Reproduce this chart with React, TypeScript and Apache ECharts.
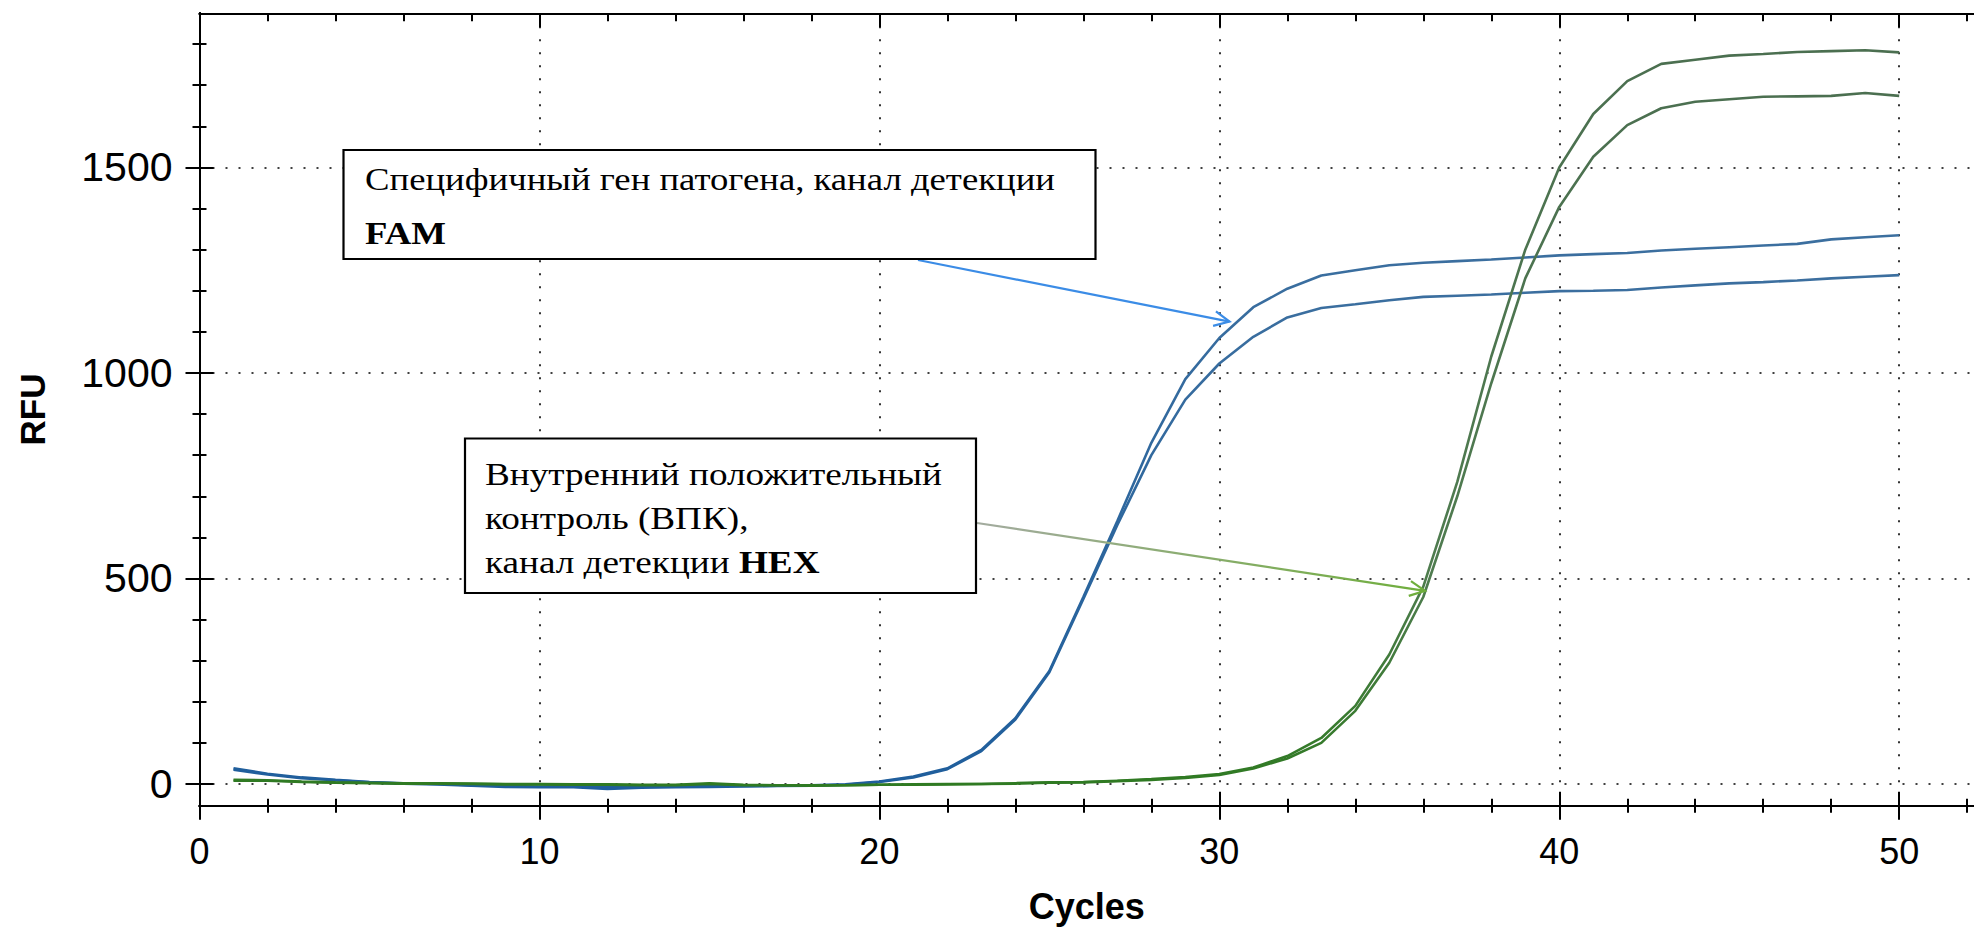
import React, { useEffect, useRef } from "react";
import * as echarts from "echarts";

// PCR amplification curves, RFU per cycle
const cycles = [
  1, 2, 3, 4, 5, 6, 7, 8, 9, 10, 11, 12, 13, 14, 15, 16, 17, 18, 19, 20, 21, 22, 23, 24, 25,
  26, 27, 28, 29, 30, 31, 32, 33, 34, 35, 36, 37, 38, 39, 40, 41, 42, 43, 44, 45, 46, 47, 48, 49, 50,
];

const famA = [
  38, 25, 16, 10, 5, 2, 0, -3, -5, -6, -5, -8, -6, -6, -5, -5, -4, -3, -1, 6, 18, 38, 83, 160, 275,
  455, 640, 830, 985, 1085, 1160, 1205, 1237, 1250, 1262, 1268, 1272, 1276, 1281, 1286, 1289, 1292, 1298, 1302, 1306, 1310, 1314, 1325, 1330, 1335,
];
const famB = [
  35, 23, 14, 9, 4, 1, -1, -4, -7, -8, -8, -12, -9, -8, -7, -6, -5, -4, -2, 5, 16, 36, 80, 157, 272,
  450, 630, 800, 935, 1023, 1088, 1135, 1158, 1167, 1177, 1185, 1188, 1191, 1195, 1199, 1200, 1202, 1208, 1213, 1218, 1221, 1225, 1230, 1234, 1238,
];
const hexA = [
  10, 9, 6, 4, 3, 2, 2, 1, 0, 0, -1, -1, -2, -2, 2, -2, -3, -3, -3, -2, -1, 0, 0, 2, 4,
  5, 8, 12, 17, 24, 40, 68, 112, 190, 315, 480, 735, 1040, 1300, 1500, 1630, 1710, 1752, 1762, 1772, 1776, 1781, 1783, 1785, 1780,
];
const hexB = [
  8, 8, 5, 3, 2, 1, 1, 0, -1, -1, -2, -2, -3, -3, 0, -3, -3, -4, -3, -2, -2, -1, 0, 1, 3,
  4, 7, 10, 15, 22, 38, 62, 100, 178, 295, 455, 700, 975, 1230, 1404, 1526, 1603, 1644, 1660, 1666, 1672, 1673, 1674, 1681, 1674,
];

const xMajorTicks = [0, 10, 20, 30, 40, 50];
const xMinorTicks = [2, 4, 6, 8, 12, 14, 16, 18, 22, 24, 26, 28, 32, 34, 36, 38, 42, 44, 46, 48, 52];
const yMajorTicks = [0, 500, 1000, 1500];
const yMinorTicks = [100, 200, 300, 400, 600, 700, 800, 900, 1100, 1200, 1300, 1400, 1600, 1700, 1800];

const famLabel = ["Специфичный ген патогена, канал детекции", "FAM"];
const hexLabel = ["Внутренний положительный", "контроль (ВПК),", "канал детекции ", "HEX"];

const X_MIN = 0;
const X_MAX = 52.2;
const Y_MIN = -52.8;
const Y_MAX = 1875;

const SANS = "'Liberation Sans', Arial, sans-serif";
const SERIF = "'Liberation Serif', 'Times New Roman', serif";

const pairs = (ys: number[]) => cycles.map((c, i) => [c, ys[i]]);

const tickAxis = (
  kind: "x" | "y",
  position: string,
  values: number[],
  inside: boolean,
  length: number,
  extra: any = {}
) => ({
  type: "value",
  position,
  min: kind === "x" ? X_MIN : Y_MIN,
  max: kind === "x" ? X_MAX : Y_MAX,
  axisLine: { show: true, onZero: false, lineStyle: { color: "#000", width: 2 } },
  axisTick: { show: true, inside, length, customValues: values, lineStyle: { color: "#000", width: 2 } },
  axisLabel: { show: false },
  splitLine: { show: false },
  ...extra,
});

const gridLine = { show: true, lineStyle: { color: "#000", width: 1.6, type: [2, 11] } };

export default function App() {
  const ref = useRef<HTMLDivElement>(null);

  useEffect(() => {
    if (!ref.current) return;
    const chart = echarts.init(ref.current, undefined, { renderer: "svg" });

    const famColor = {
      type: "linear", x: 0, y: 0, x2: 0, y2: 1,
      colorStops: [{ offset: 0, color: "#3c6f9f" }, { offset: 1, color: "#1f5e9c" }],
    };
    const hexColor = {
      type: "linear", x: 0, y: 0, x2: 0, y2: 1,
      colorStops: [{ offset: 0, color: "#4b6f50" }, { offset: 0.7, color: "#4f7c4f" }, { offset: 1, color: "#2f7a22" }],
    };

    const lineSeries = (name: string, ys: number[], color: any) => ({
      name,
      type: "line",
      xAxisIndex: 0,
      yAxisIndex: 0,
      data: pairs(ys),
      showSymbol: false,
      symbol: "none",
      smooth: false,
      lineStyle: { width: 2.6, color },
      itemStyle: { color },
      z: 3,
    });

    chart.setOption({
      animation: false,
      backgroundColor: "#fff",
      grid: { left: 199.5, top: 13.3, right: 0, bottom: 127.3, containLabel: false },
      xAxis: [
        tickAxis("x", "bottom", xMajorTicks, false, 14, {
          interval: 10,
          axisLabel: {
            show: true,
            customValues: xMajorTicks,
            margin: 28,
            fontSize: 36,
            fontFamily: SANS,
            color: "#000",
          },
          splitLine: gridLine,
          name: "Cycles",
          nameLocation: "middle",
          nameGap: 83,
          nameTextStyle: { fontSize: 36, fontWeight: "bold", fontFamily: SANS, color: "#000" },
        }),
        tickAxis("x", "bottom", xMajorTicks, true, 14),
        tickAxis("x", "bottom", xMinorTicks, false, 7),
        tickAxis("x", "bottom", xMinorTicks, true, 7),
        tickAxis("x", "top", xMajorTicks, true, 14),
        tickAxis("x", "top", xMinorTicks, true, 8),
      ],
      yAxis: [
        tickAxis("y", "left", yMajorTicks, false, 14, {
          axisLabel: {
            show: true,
            customValues: yMajorTicks,
            margin: 27,
            fontSize: 41,
            fontFamily: SANS,
            color: "#000",
            formatter: (v: number) => String(v),
          },
          splitLine: gridLine,
          name: "RFU",
          nameLocation: "middle",
          nameGap: 150,
          nameTextStyle: { fontSize: 35, fontWeight: "bold", fontFamily: SANS, color: "#000" },
        }),
        tickAxis("y", "left", yMajorTicks, true, 14),
        tickAxis("y", "left", yMinorTicks, false, 7),
        tickAxis("y", "left", yMinorTicks, true, 7),
      ],
      series: [
        lineSeries("FAM 1", famA, famColor),
        lineSeries("FAM 2", famB, famColor),
        lineSeries("HEX 1", hexA, hexColor),
        lineSeries("HEX 2", hexB, hexColor),
      ],
    });

    // Callout boxes with arrows pointing at the curves
    const famTip = chart.convertToPixel({ xAxisIndex: 0, yAxisIndex: 0 }, [30.3, 1125]) as number[];
    const hexTip = chart.convertToPixel({ xAxisIndex: 0, yAxisIndex: 0 }, [36.05, 470]) as number[];

    const arrow = (from: number[], to: number[], color: any, headColor: string) => {
      const ang = Math.atan2(to[1] - from[1], to[0] - from[0]);
      const len = 17;
      const spread = 0.45;
      const p1 = [to[0] - len * Math.cos(ang - spread), to[1] - len * Math.sin(ang - spread)];
      const p2 = [to[0] - len * Math.cos(ang + spread), to[1] - len * Math.sin(ang + spread)];
      return [
        {
          type: "line",
          shape: { x1: from[0], y1: from[1], x2: to[0], y2: to[1] },
          style: { stroke: color, lineWidth: 2.2 },
          z: 10,
        },
        {
          type: "polyline",
          shape: { points: [p1, to, p2] },
          style: { stroke: headColor, lineWidth: 2.2, fill: null },
          z: 10,
        },
      ];
    };

    const textStyle = (text: string, bold = false) => ({
      text,
      font: `${bold ? "bold " : ""}31px ${SERIF}`,
      fill: "#000",
      align: "left",
      verticalAlign: "middle",
    });

    chart.setOption({
      graphic: [
        ...arrow([918, 260], famTip, "#3b8ce6", "#3b8ce6"),
        ...arrow(
          [977, 523],
          hexTip,
          {
            type: "linear", x: 0, y: 0, x2: 1, y2: 0, global: false,
            colorStops: [{ offset: 0, color: "#a3ab9f" }, { offset: 1, color: "#6fae3c" }],
          },
          "#6fae3c"
        ),
        {
          type: "rect",
          shape: { x: 343.5, y: 150, width: 752, height: 109 },
          style: { fill: "#fff", stroke: "#000", lineWidth: 2.2 },
          z: 11,
        },
        {
          type: "group",
          x: 365,
          y: 180,
          scaleX: 1.185,
          z: 12,
          children: [
            { type: "text", x: 0, y: 0, style: textStyle(famLabel[0]), z: 12 },
            { type: "text", x: 0, y: 54, style: textStyle(famLabel[1], true), z: 12 },
          ],
        },
        {
          type: "rect",
          shape: { x: 465, y: 438.5, width: 511, height: 154.5 },
          style: { fill: "#fff", stroke: "#000", lineWidth: 2.2 },
          z: 11,
        },
        {
          type: "group",
          x: 485,
          y: 474,
          scaleX: 1.2,
          z: 12,
          children: [
            { type: "text", x: 0, y: 0, style: textStyle(hexLabel[0]), z: 12 },
            { type: "text", x: 0, y: 44, style: textStyle(hexLabel[1]), z: 12 },
            {
              type: "text",
              x: 0,
              y: 88,
              style: {
                ...textStyle(""),
                text: `${hexLabel[2]}{b|${hexLabel[3]}}`,
                rich: {
                  b: { font: `bold 31px ${SERIF}`, fill: "#000", verticalAlign: "middle" },
                },
              },
              z: 12,
            },
          ],
        },
      ],
    });

    return () => chart.dispose();
  }, []);

  return (
    <div
      ref={ref}
      style={{ position: "absolute", left: 0, top: 0, width: 1974, height: 933, background: "#fff" }}
    />
  );
}
